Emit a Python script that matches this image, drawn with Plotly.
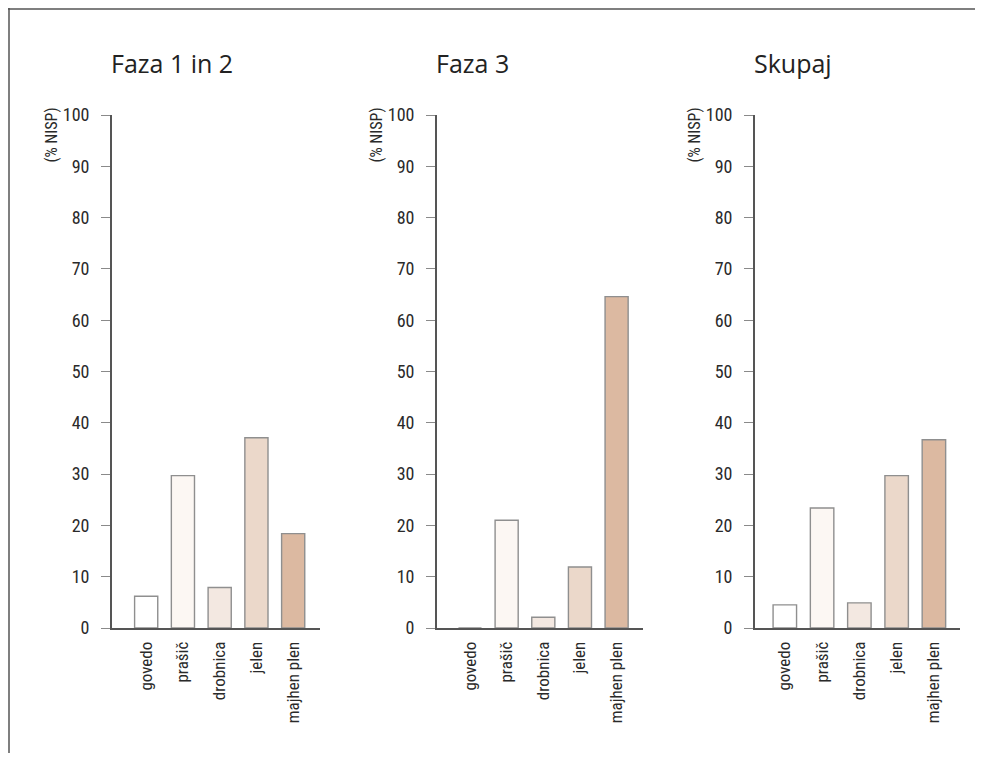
import plotly.graph_objects as go

categories = ["govedo", "prašič", "drobnica", "jelen", "majhen plen"]
panel_titles = ["Faza 1 in 2", "Faza 3", "Skupaj"]
faza_1_2 = [6.2, 29.7, 7.9, 37.1, 18.4]
faza_3 = [0.0, 21.0, 2.1, 11.9, 64.6]
skupaj = [4.5, 23.4, 4.9, 29.7, 36.7]
series = [faza_1_2, faza_3, skupaj]
y_ticks = [0, 10, 20, 30, 40, 50, 60, 70, 80, 90, 100]
y_label = "(% NISP)"

bar_colors = ["#ffffff", "#fcf7f3", "#f3e8e1", "#ebd8ca", "#dcb9a1"]

# page body offset of the figure inside the browser window
OFF = 8
W, H = 983 - 2 * OFF, 761 - 2 * OFF


def px(x):
    return (x - OFF) / W


def py(y):
    return 1 - (y - OFF) / H


panels = [
    dict(x0=112, x1=320, rng=[-0.93, 4.73]),
    dict(x0=437, x1=643, rng=[-0.9, 4.72]),
    dict(x0=755, x1=960, rng=[-0.8, 4.7]),
]
y_top, y_bot = 115, 628

cond = "Roboto Condensed, Liberation Sans Narrow, DejaVu Sans Condensed, Roboto, sans-serif"
fig = go.Figure()
for i, (vals, p) in enumerate(zip(series, panels)):
    sfx = "" if i == 0 else str(i + 1)
    fig.add_trace(go.Bar(
        x=list(range(len(categories))), y=vals,
        marker=dict(color=bar_colors, line=dict(color="#8f8f8f", width=1.4)),
        width=0.63, xaxis="x" + sfx, yaxis="y" + sfx, showlegend=False,
    ))
    fig.layout["xaxis" + sfx] = dict(
        domain=[px(p["x0"]), px(p["x1"])], range=p["rng"], anchor="y" + sfx,
        tickmode="array", tickvals=list(range(len(categories))), ticktext=categories,
        tickangle=-90, showgrid=False, zeroline=False, showline=True,
        linecolor="#555555", linewidth=1.8, ticks="", ticklabelstandoff=5,
        tickfont=dict(family=cond, size=17, color="#2a2a2a"), fixedrange=True,
        automargin=False,
    )
    fig.layout["yaxis" + sfx] = dict(
        domain=[py(y_bot), py(y_top)], range=[0, 100], anchor="x" + sfx,
        tickvals=y_ticks, ticks="outside", ticklen=9, tickwidth=1.2, tickcolor="#8a8a8a",
        showgrid=False, zeroline=False, showline=True, linecolor="#555555", linewidth=1.8,
        tickfont=dict(family=cond, size=18, color="#2a2a2a"), ticklabelstandoff=8,
        fixedrange=True, automargin=False,
    )
    fig.add_annotation(
        text=panel_titles[i], xref="paper", yref="paper",
        x=px(p["x0"] - 3), y=py(63), xanchor="left", yanchor="middle",
        showarrow=False, font=dict(family="Open Sans, Noto Sans, sans-serif", size=25, color="#222222"),
    )
    fig.add_annotation(
        text=y_label, xref="paper", yref="paper", textangle=-90,
        x=px(p["x0"] - 61), y=py(106), xanchor="center", yanchor="top",
        showarrow=False, font=dict(family=cond, size=16, color="#2a2a2a"),
    )

fig.update_layout(
    width=W, height=H, margin=dict(l=0, r=0, t=0, b=0, autoexpand=False),
    paper_bgcolor="white", plot_bgcolor="white",
    shapes=[
        dict(type="line", xref="paper", yref="paper", x0=0, x1=1, y0=1 - 1 / H, y1=1 - 1 / H,
             line=dict(color="#555555", width=1.5)),
        dict(type="line", xref="paper", yref="paper", x0=1 / W, x1=1 / W, y0=0, y1=1,
             line=dict(color="#555555", width=1.5)),
    ],
)
fig.write_html("out.html")
